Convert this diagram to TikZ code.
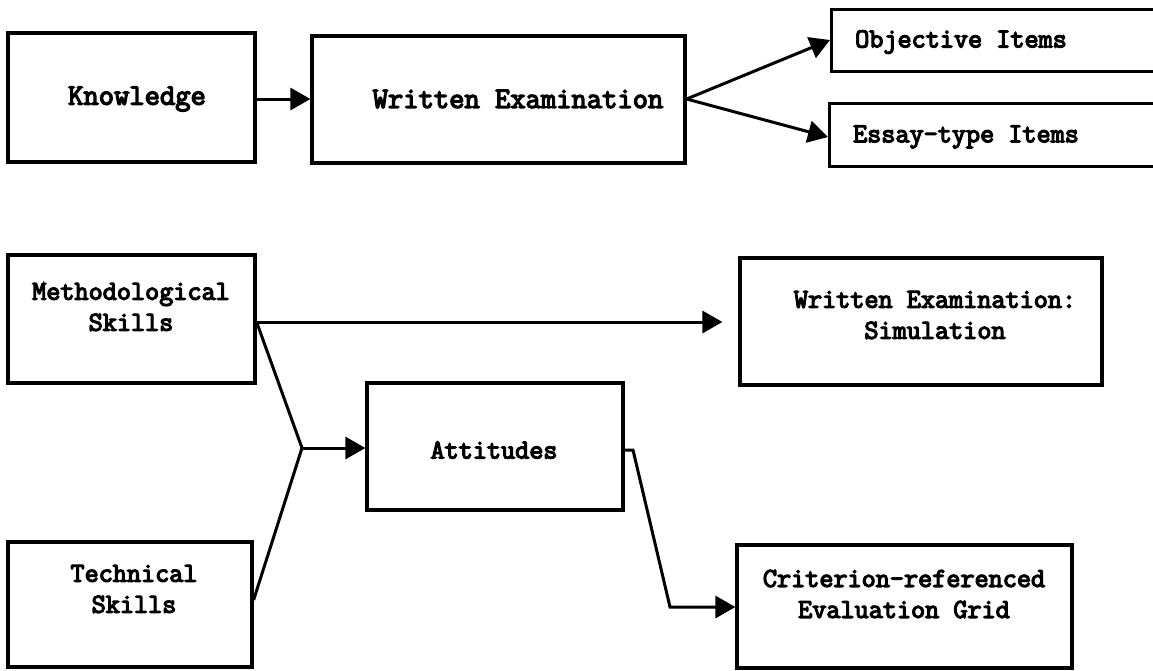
\documentclass[tikz,border=0pt]{standalone}
\usepackage{fontspec}
\newfontfamily\twfont{Latin Modern Mono}[FakeBold=4.5]
\usetikzlibrary{arrows.meta}
\begin{document}
\begin{tikzpicture}[x=1pt,y=-1pt,
  box/.style={draw,line width=3.2pt,inner sep=0pt},
  lbl/.style={inner sep=0pt,align=center,font=\twfont\fontsize{27.4}{31}\selectfont},
  lblbig/.style={inner sep=0pt,align=center,font=\twfont\fontsize{29.7}{31}\selectfont},
  conn/.style={line width=3pt},
  arr/.style={line width=3pt,-{Triangle[length=20pt,width=22pt]}}]
\useasboundingbox (0,0) rectangle (1153,670);
% boxes
\node[box,minimum width=247pt,minimum height=129pt] (kn) at (131.5,97.5) {};
\node[box,minimum width=373pt,minimum height=127pt] (we) at (498.5,99.5) {};
\node[box,minimum width=330pt,minimum height=62pt,anchor=north west] (obj) at (830,8) {};
\node[box,minimum width=332pt,minimum height=63pt,anchor=north west] (ess) at (828,102) {};
\node[box,minimum width=247pt,minimum height=128pt] (me) at (131.5,319) {};
\node[box,minimum width=362pt,minimum height=127pt] (sim) at (921,321.5) {};
\node[box,minimum width=256pt,minimum height=127pt] (att) at (495,446.5) {};
\node[box,minimum width=244pt,minimum height=125pt] (te) at (130,604.5) {};
\node[box,minimum width=335pt,minimum height=123pt] (cr) at (904.5,606.5) {};
% texts
\node[lblbig] (tkn) at (137,99) {Knowledge};
\node[lblbig] (twe) at (518,99) {Written Examination};
\node[lbl] (tobj) at (961,42) {Objective Items};
\node[lbl] (tess) at (966,137) {Essay-type Items};
\node[lbl] (tme) at (131,307) {Methodological\\Skills};
\node[lbl] (tsim) at (935,315) {Written Examination:\\Simulation};
\node[lbl] (tatt) at (494,450) {Attitudes};
\node[lbl] (tte) at (134,589) {Technical\\Skills};
\node[lbl] (tcr) at (904,594) {Criterion-referenced\\Evaluation Grid};
% connectors
\coordinate (j) at (302,448);
\coordinate (a1) at (633,450);
\coordinate (a2) at (670,607);
\draw[arr] (kn.east |- 0,99) -- (we.west |- 0,99);
\draw[arr] (we.east |- 0,99) -- (obj.west |- 0,40);
\draw[arr] (we.east |- 0,99) -- (ess.west |- 0,137);
\draw[arr,shorten >=16pt] (me.east |- 0,322) -- (sim.west |- 0,322);
\draw[conn] (me.east |- 0,322) -- (j);
\draw[conn] (te.east |- 0,600) -- (j);
\draw[arr] (j) -- (att.west |- j);
\draw[arr] (att.east |- 0,450) -- (a1) -- (a2) -- (cr.west |- a2);
\end{tikzpicture}
\end{document}
